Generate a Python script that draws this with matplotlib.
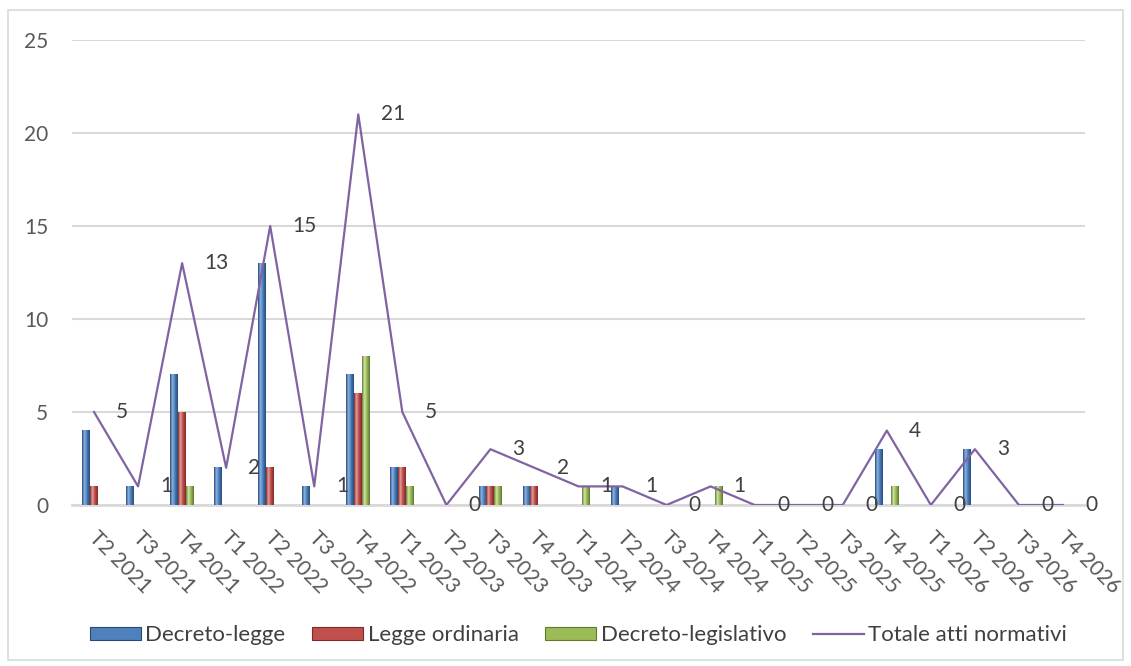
import numpy as np
import matplotlib
matplotlib.use('Agg')
import matplotlib.pyplot as plt
import matplotlib.transforms as mtransforms
from matplotlib.colors import LinearSegmentedColormap
from matplotlib.patches import Patch, Rectangle
from matplotlib.lines import Line2D

plt.rcParams['font.family'] = ['Lato', 'DejaVu Sans']

# quarters on the x axis
quarters = ['T2 2021', 'T3 2021', 'T4 2021', 'T1 2022', 'T2 2022', 'T3 2022',
            'T4 2022', 'T1 2023', 'T2 2023', 'T3 2023', 'T4 2023', 'T1 2024',
            'T2 2024', 'T3 2024', 'T4 2024', 'T1 2025', 'T2 2025', 'T3 2025',
            'T4 2025', 'T1 2026', 'T2 2026', 'T3 2026', 'T4 2026']

decreto_legge = [4, 1, 7, 2, 13, 1, 7, 2, 0, 1, 1, 0, 1, 0, 0, 0, 0, 0, 3, 0, 3, 0, 0]
legge_ordinaria = [1, 0, 5, 0, 2, 0, 6, 2, 0, 1, 1, 0, 0, 0, 0, 0, 0, 0, 0, 0, 0, 0, 0]
decreto_legislativo = [0, 0, 1, 0, 0, 0, 8, 1, 0, 1, 0, 1, 0, 0, 1, 0, 0, 0, 1, 0, 0, 0, 0]
totale = [5, 1, 13, 2, 15, 1, 21, 5, 0, 3, 2, 1, 1, 0, 1, 0, 0, 0, 4, 0, 3, 0, 0]

series = [
    ('Decreto-legge', decreto_legge, '#4F81BD', '#8DB3E2', '#254A78'),
    ('Legge ordinaria', legge_ordinaria, '#C0504D', '#E6A09E', '#7F2A28'),
    ('Decreto-legislativo', decreto_legislativo, '#9BBB59', '#D2E5A8', '#5E7A2C'),
]
line_color = '#8064A2'
grid_color = '#D9D9D9'
text_color = '#404040'

fig = plt.figure(figsize=(11.31, 6.66), dpi=100)
ax = fig.add_axes([72 / 1131, 1 - 505 / 666, (1085 - 72) / 1131, (505 - 40) / 666])

x = np.arange(len(quarters))
w = 0.18
for k, (name, vals, base, light, dark) in enumerate(series):
    bars = ax.bar(x + (k - 1) * w, vals, width=w, color=base, zorder=2)
    cmap = LinearSegmentedColormap.from_list(name, [(0, dark), (0.3, light), (0.6, base), (1, dark)])
    grad = np.linspace(0, 1, 64).reshape(1, -1)
    for b in bars:
        h = b.get_height()
        if h <= 0:
            continue
        x0 = b.get_x()
        ax.imshow(grad, cmap=cmap, aspect='auto', zorder=2.1,
                  extent=[x0, x0 + b.get_width(), 0, h], interpolation='bilinear')

ax.plot(x, totale, color=line_color, lw=1.6, zorder=3)
for xi, v in zip(x, totale):
    ax.annotate(str(v), (xi, v), xytext=(16, 0), textcoords='offset points',
                ha='left', va='center', fontsize=15, color=text_color, zorder=4)

ax.set_xlim(-0.5, len(quarters) - 0.5)
ax.set_ylim(0, 25)
ax.set_yticks(range(0, 26, 5))
ax.yaxis.grid(True, color=grid_color, lw=1.5, zorder=0)
ax.set_axisbelow(True)
for s in ['top', 'right', 'left']:
    ax.spines[s].set_visible(False)
ax.spines['bottom'].set_color(grid_color)
ax.spines['bottom'].set_linewidth(2)
ax.spines['bottom'].set_zorder(1)

ax.set_xticks(x)
ax.set_xticklabels(quarters, rotation=-45, ha='left', va='top', rotation_mode='anchor')
ax.tick_params(axis='x', length=0, pad=16, labelsize=15, labelcolor='#595959')
ax.tick_params(axis='y', length=0, pad=17, labelsize=15, labelcolor='#595959')
shift = mtransforms.ScaledTranslation(0.05, 0, fig.dpi_scale_trans)
for lbl in ax.get_xticklabels():
    lbl.set_transform(lbl.get_transform() + shift)

handles = [Patch(facecolor=base, edgecolor=dark, lw=0.8) for _, _, base, _, dark in series]
handles.append(Line2D([0], [0], color=line_color, lw=1.6))
labels = [s[0] for s in series] + ['Totale atti normativi']
ax.legend(handles, labels, loc='center', bbox_to_anchor=(0.5, -0.28), ncol=4,
          frameon=False, fontsize=16, handlelength=2.3, handleheight=0.5,
          handletextpad=0.2, columnspacing=1.2, labelcolor=text_color)

# outer chart border
fig.patches.append(Rectangle((8 / 1131, 6 / 666), 1115 / 1131, 650 / 666,
                             transform=fig.transFigure, fill=False,
                             edgecolor=grid_color, lw=1.2))

fig.savefig('out.png', dpi=100)
